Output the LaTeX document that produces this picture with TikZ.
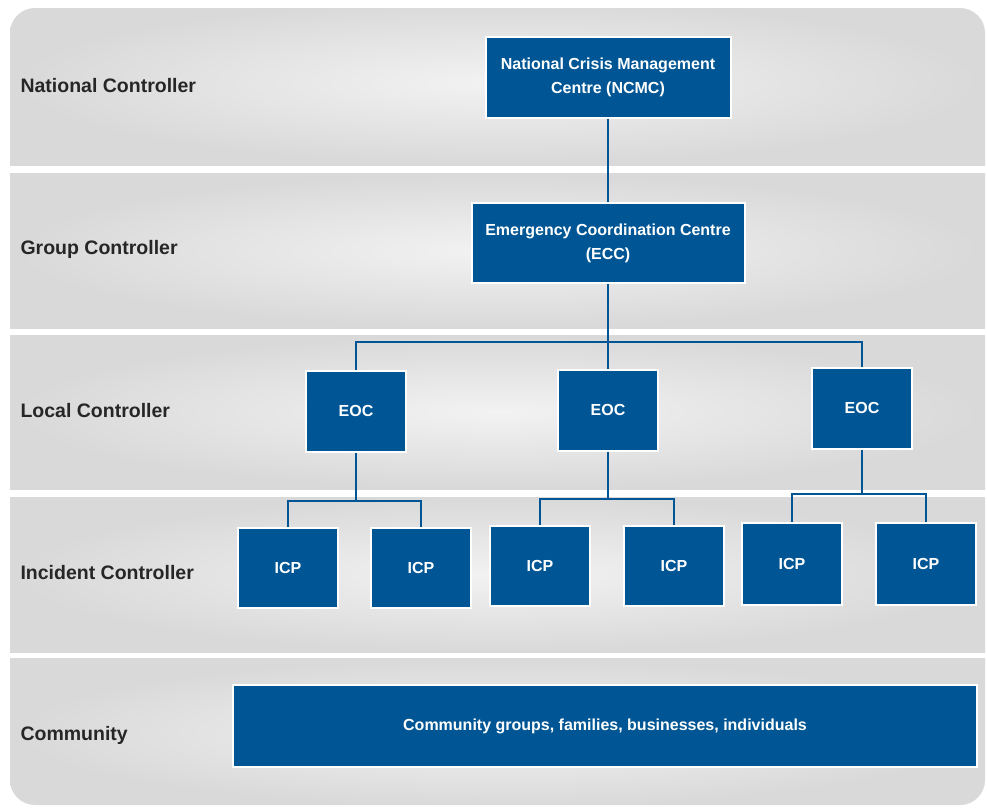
\documentclass[tikz,border=0pt]{standalone}
\usepackage{fontspec}
\setmainfont{Liberation Sans}
\definecolor{ccblue}{RGB}{0,86,148}
\tikzset{band/.style={inner color=gray!10,outer color=gray!30}}
\tikzset{level/.style={anchor=west,font=\bfseries\fontsize{19.5}{22}\selectfont,text=black!85}}
\tikzset{unit/.style={draw=white,line width=2pt,fill=ccblue,text=white,align=center,
    font=\bfseries\fontsize{16}{24}\selectfont,inner sep=0pt}}
\tikzset{link/.style={ccblue,line width=2pt}}

\begin{document}
\begin{tikzpicture}[x=1pt,y=-1pt]
        \useasboundingbox (0,0) rectangle (987,807);
        % draw the bands
        \begin{scope}
        \clip[rounded corners=25] (10,8) rectangle (985,805);
        \shade[band] (10,0) rectangle (987,165);
        \shade[band] (10,173) rectangle (987,328);
        \shade[band] (10,335) rectangle (987,489);
        \shade[band] (10,497) rectangle (987,652);
        \shade[band] (10,658) rectangle (987,807);
        \end{scope}

        \node[level] (lnat) at (17,86) {National Controller};
        \node[level] (lgrp) at (17,249) {Group Controller};
        \node[level] (lloc) at (17,411) {Local Controller};
        \node[level] (linc) at (17,573) {Incident Controller};
        \node[level] (lcom) at (17,735) {Community};

        % draw the boxes
        \node[unit,minimum width=245,minimum height=81] (ncmc) at (608,77) {National Crisis Management\\Centre (NCMC)};
        \node[unit,minimum width=273,minimum height=80] (ecc) at (608,243) {Emergency Coordination Centre\\(ECC)};

        \node[unit,minimum width=100,minimum height=81] (eoc1) at (356,411) {EOC};
        \node[unit,minimum width=100,minimum height=81] (eoc2) at (608,410) {EOC};
        \node[unit,minimum width=100,minimum height=81] (eoc3) at (862,408) {EOC};

        \node[unit,minimum width=100,minimum height=80] (icp1) at (288,568) {ICP};
        \node[unit,minimum width=100,minimum height=80] (icp2) at (421,568) {ICP};
        \node[unit,minimum width=100,minimum height=80] (icp3) at (540,566) {ICP};
        \node[unit,minimum width=100,minimum height=80] (icp4) at (674,566) {ICP};
        \node[unit,minimum width=100,minimum height=82] (icp5) at (792,564) {ICP};
        \node[unit,minimum width=100,minimum height=82] (icp6) at (926,564) {ICP};

        \node[unit,minimum width=744,minimum height=82] (comm) at (605,726) {Community groups, families, businesses, individuals};

        % draw the links
        \coordinate (bus0) at (608,342);
        \coordinate (bus1) at (356,501);
        \coordinate (bus2) at (608,499);
        \coordinate (bus3) at (862,494);

        \draw[link] (ncmc) -- (ecc);
        \draw[link] (ecc) -- (bus0);
        \draw[link] (bus0) -| (eoc1);
        \draw[link] (bus0) -- (eoc2);
        \draw[link] (bus0) -| (eoc3);

        \draw[link] (eoc1) -- (bus1);
        \draw[link] (bus1) -| (icp1);
        \draw[link] (bus1) -| (icp2);
        \draw[link] (eoc2) -- (bus2);
        \draw[link] (bus2) -| (icp3);
        \draw[link] (bus2) -| (icp4);
        \draw[link] (eoc3) -- (bus3);
        \draw[link] (bus3) -| (icp5);
        \draw[link] (bus3) -| (icp6);
    \end{tikzpicture}
\end{document}
